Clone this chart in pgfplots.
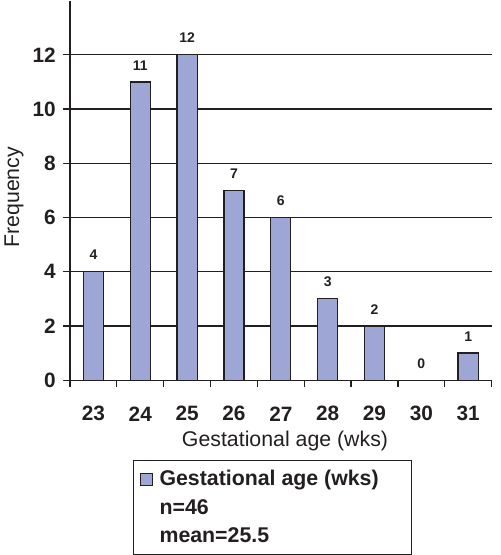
\documentclass[border=0pt]{standalone}
\usepackage{pgfplots}
\pgfplotsset{compat=1.18}
\usepackage{fontspec}
\setmainfont{Liberation Sans}
\definecolor{barc}{RGB}{158,166,214}
\definecolor{ink}{RGB}{35,31,32}
\begin{document}
\begin{tikzpicture}
\path (-51.75pt,-131.25pt) rectangle (323.25pt,285pt);
\begin{axis}[
  at={(0pt,0pt)}, anchor=south west,
  scale only axis, width=316.5pt, height=285pt,
  set layers, axis on top=false,
  ybar, bar width=0.43,
  xmin=-0.5, xmax=8.5, ymin=0, ymax=14,
  axis x line*=bottom, axis y line*=left,
  axis line style={-, ink, line width=0.9pt},
  xtick={0,...,8},
  xticklabels={23,24,25,26,27,28,29,30,31},
  major x tick style={draw=none},
  minor xtick={-0.5,0.5,...,8.5},
  minor x tick style={ink, line width=0.9pt},
  minor tick length=5.25pt,
  ytick={0,2,4,6,8,10,12},
  y tick style={ink, line width=0.9pt},
  major tick length=5.25pt,
  tick align=outside,
  ymajorgrids,
  grid style={ink, line width=0.9pt},
  /pgf/number format/assume math mode=true,
  tick label style={font=\bfseries\fontsize{15.6}{16}\selectfont, text=ink},
  xticklabel style={anchor=center, yshift=-20pt},
  yticklabel style={xshift=-2pt},
  xlabel={Gestational age (wks)},
  ylabel={Frequency},
  label style={font=\fontsize{16}{18}\selectfont, text=ink},
  xlabel style={at={(axis description cs:0.51,-0.161)}, anchor=center},
  ylabel style={at={(axis description cs:-0.133,0.482)}, anchor=center},
  nodes near coords,
  nodes near coords style={font=\bfseries\fontsize{10.5}{12}\selectfont, text=ink, anchor=south, inner sep=0pt, yshift=8.5pt},
  legend style={at={(axis description cs:0.48,-0.21)}, anchor=north,
    draw=ink, line width=0.9pt, font=\bfseries\fontsize{16}{18}\selectfont, text=ink,
    inner xsep=5pt, inner ysep=5.5pt, row sep=4.5pt, column sep=3pt},
  legend cell align=left,
  legend image code/.code={\draw[fill=barc, draw=ink, line width=0.6pt] (0pt,-4.5pt) rectangle (9pt,4.5pt);},
]
\addplot[fill=barc, draw=ink, line width=0.9pt] coordinates {
(0,4) (1,11) (2,12) (3,7) (4,6) (5,3) (6,2) (7,0) (8,1)};
\addlegendentry{\makebox[182pt][l]{Gestational age (wks)}}
\addlegendimage{empty legend}
\addlegendentry{n=46}
\addlegendimage{empty legend}
\addlegendentry{mean=25.5}
\end{axis}
\end{tikzpicture}
\end{document}
